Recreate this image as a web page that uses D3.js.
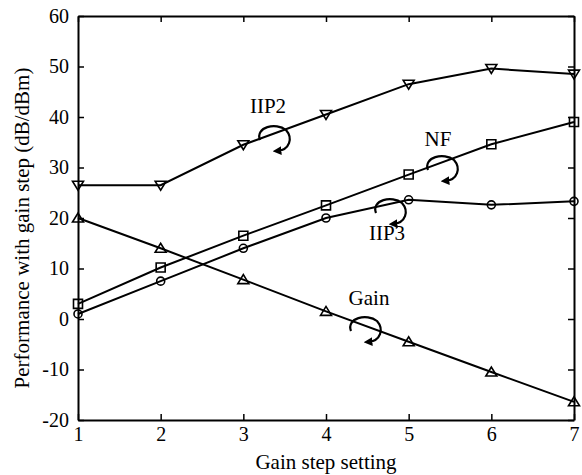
<!DOCTYPE html>
<html>
<head>
<meta charset="utf-8">
<script src="https://cdn.jsdelivr.net/npm/d3@7"></script>
<style>
  html, body { margin: 0; padding: 0; background: #fff; }
  text { font-family: "Liberation Serif", "Times New Roman", serif; fill: #000; }
</style>
</head>
<body>
<svg id="chart" width="582" height="475"></svg>
<script>
// Gain step settings and measured performance per step
const steps = [1, 2, 3, 4, 5, 6, 7];
const iip2 = [26.5, 26.5, 34.5, 40.5, 46.5, 49.6, 48.5];
const nf   = [3.0, 10.2, 16.5, 22.5, 28.6, 34.6, 39.0];
const iip3 = [1.0, 7.5, 14.0, 20.0, 23.6, 22.6, 23.3];
const gain = [20.0, 14.0, 7.8, 1.5, -4.5, -10.5, -16.4];
const xTicks = [1, 2, 3, 4, 5, 6, 7];
const yTicks = [-20, -10, 0, 10, 20, 30, 40, 50, 60];

const svg = d3.select("#chart");
const m = { left: 78, right: 8, top: 16, bottom: 55 };
const W = 582, H = 475;

const x = d3.scaleLinear().domain([1, 7]).range([m.left, W - m.right]);
const y = d3.scaleLinear().domain([-20, 60]).range([H - m.bottom, m.top]);

// Axes with inward ticks on all four sides
const tick = 6;
const fs = "20px";
const plain = d => String(d);
svg.append("g").attr("transform", `translate(0,${y(-20)})`)
  .call(d3.axisBottom(x).tickValues(xTicks).tickFormat(plain).tickSizeInner(-tick).tickSizeOuter(0).tickPadding(7));
svg.append("g").attr("transform", `translate(0,${y(60)})`)
  .call(d3.axisTop(x).tickValues(xTicks).tickFormat("").tickSizeInner(-tick).tickSizeOuter(0));
svg.append("g").attr("transform", `translate(${x(1)},0)`)
  .call(d3.axisLeft(y).tickValues(yTicks).tickFormat(plain).tickSizeInner(-tick).tickSizeOuter(0).tickPadding(9));
svg.append("g").attr("transform", `translate(${x(7)},0)`)
  .call(d3.axisRight(y).tickValues(yTicks).tickFormat("").tickSizeInner(-tick).tickSizeOuter(0));

svg.selectAll(".domain").attr("stroke", "#000").attr("stroke-width", 2);
svg.selectAll(".tick line").attr("stroke", "#000").attr("stroke-width", 1.5);
svg.selectAll(".tick text").attr("font-size", fs).attr("font-family", "Liberation Serif, serif").attr("fill", "#000");

// Axis titles
svg.append("text").attr("x", (x(1) + x(7)) / 2).attr("y", 469)
  .attr("text-anchor", "middle").attr("font-size", "21px").text("Gain step setting");
svg.append("text").attr("transform", `translate(29,228) rotate(-90)`)
  .attr("text-anchor", "middle").attr("font-size", "21px").text("Performance with gain step (dB/dBm)");

// Series lines and markers
const line = d3.line().x((d, i) => x(steps[i])).y(d => y(d));
const series = [
  { vals: iip2, marker: "down" },
  { vals: nf, marker: "square" },
  { vals: iip3, marker: "circle" },
  { vals: gain, marker: "up" }
];

function markerPath(type) {
  switch (type) {
    case "down": return "M-5.5,-4 L5.5,-4 L0,5 Z";
    case "up": return "M-5.5,4 L5.5,4 L0,-5 Z";
    case "square": return "M-4.5,-4.5 H4.5 V4.5 H-4.5 Z";
    default: return null;
  }
}

series.forEach(s => {
  svg.append("path").datum(s.vals).attr("d", line)
    .attr("fill", "none").attr("stroke", "#000").attr("stroke-width", 2);
  const g = svg.append("g");
  s.vals.forEach((v, i) => {
    if (s.marker === "circle") {
      g.append("circle").attr("cx", x(steps[i])).attr("cy", y(v)).attr("r", 4)
        .attr("fill", "none").attr("stroke", "#000").attr("stroke-width", 1.6);
    } else {
      g.append("path").attr("transform", `translate(${x(steps[i])},${y(v)})`)
        .attr("d", markerPath(s.marker))
        .attr("fill", "none").attr("stroke", "#000").attr("stroke-width", 1.6);
    }
  });
});

// Curled arrows pointing each label to its curve
svg.append("defs").append("marker").attr("id", "ah")
  .attr("viewBox", "0 0 10 10").attr("refX", 5).attr("refY", 5)
  .attr("markerWidth", 4).attr("markerHeight", 4).attr("orient", "auto-start-reverse")
  .append("path").attr("d", "M0,0 L10,5 L0,10 Z").attr("fill", "#000");

function curl(cx, cy) {
  svg.append("path")
    .attr("transform", `translate(${cx},${cy})`)
    .attr("d", "M-13,5 C-18,-8 3,-13 13,-5 C20,3 17,15 4,16")
    .attr("fill", "none").attr("stroke", "#000").attr("stroke-width", 2.2)
    .attr("marker-end", "url(#ah)");
}

const notes = [
  { text: "IIP2", tx: 268, ty: 113, cx: 273, cy: 135 },
  { text: "NF",   tx: 438, ty: 146, cx: 441, cy: 165 },
  { text: "IIP3", tx: 387, ty: 240, cx: 389, cy: 208 },
  { text: "Gain", tx: 369, ty: 305, cx: 364, cy: 326 }
];
notes.forEach(n => {
  svg.append("text").attr("x", n.tx).attr("y", n.ty).attr("text-anchor", "middle")
    .attr("font-size", "21px").text(n.text);
  curl(n.cx, n.cy);
});
</script>
</body>
</html>
